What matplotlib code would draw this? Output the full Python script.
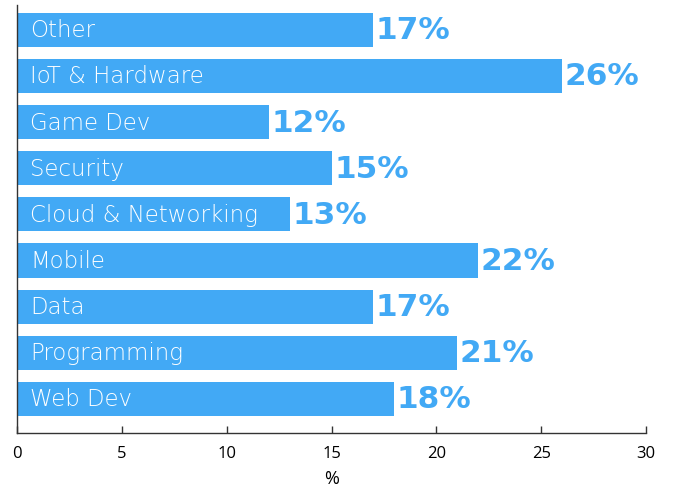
import matplotlib
matplotlib.use("Agg")
import matplotlib.pyplot as plt

categories = ["Web Dev", "Programming", "Data", "Mobile", "Cloud & Networking",
              "Security", "Game Dev", "IoT & Hardware", "Other"]
shares = [18, 21, 17, 22, 13, 15, 12, 26, 17]
x_ticks = [0, 5, 10, 15, 20, 25, 30]

bar_color = "#42a9f5"

fig = plt.figure(figsize=(6.81, 4.88), dpi=100)
ax = fig.add_axes([17 / 681, 55 / 488, (646 - 17) / 681, (483 - 55) / 488])

ypos = list(range(len(categories)))
ax.barh(ypos, shares, height=0.74, color=bar_color, zorder=2)

for y, name, val in zip(ypos, categories, shares):
    ax.text(0.62, y - 0.02, name, color="white", va="center", ha="left",
            fontsize=16.5, fontweight="light", family="DejaVu Sans")
    ax.text(val + 0.12, y - 0.02, f"{val}%", color=bar_color, va="center",
            ha="left", fontsize=22.5, fontweight="bold", family="DejaVu Sans")

ax.set_xlim(0, 30)
ax.set_ylim(-0.74, 8.54)
ax.set_xticks(x_ticks)
ax.set_xticklabels([str(t) for t in x_ticks], family="Open Sans", fontsize=12)
ax.set_yticks([])
ax.tick_params(axis="x", direction="in", length=5, width=1, color="#333333", pad=9)
ax.set_xlabel("%", family="Open Sans", fontsize=13, labelpad=6)

for side in ("top", "right"):
    ax.spines[side].set_visible(False)
for side in ("left", "bottom"):
    ax.spines[side].set_color("#333333")
    ax.spines[side].set_linewidth(1)

fig.savefig("out.png", dpi=100)
